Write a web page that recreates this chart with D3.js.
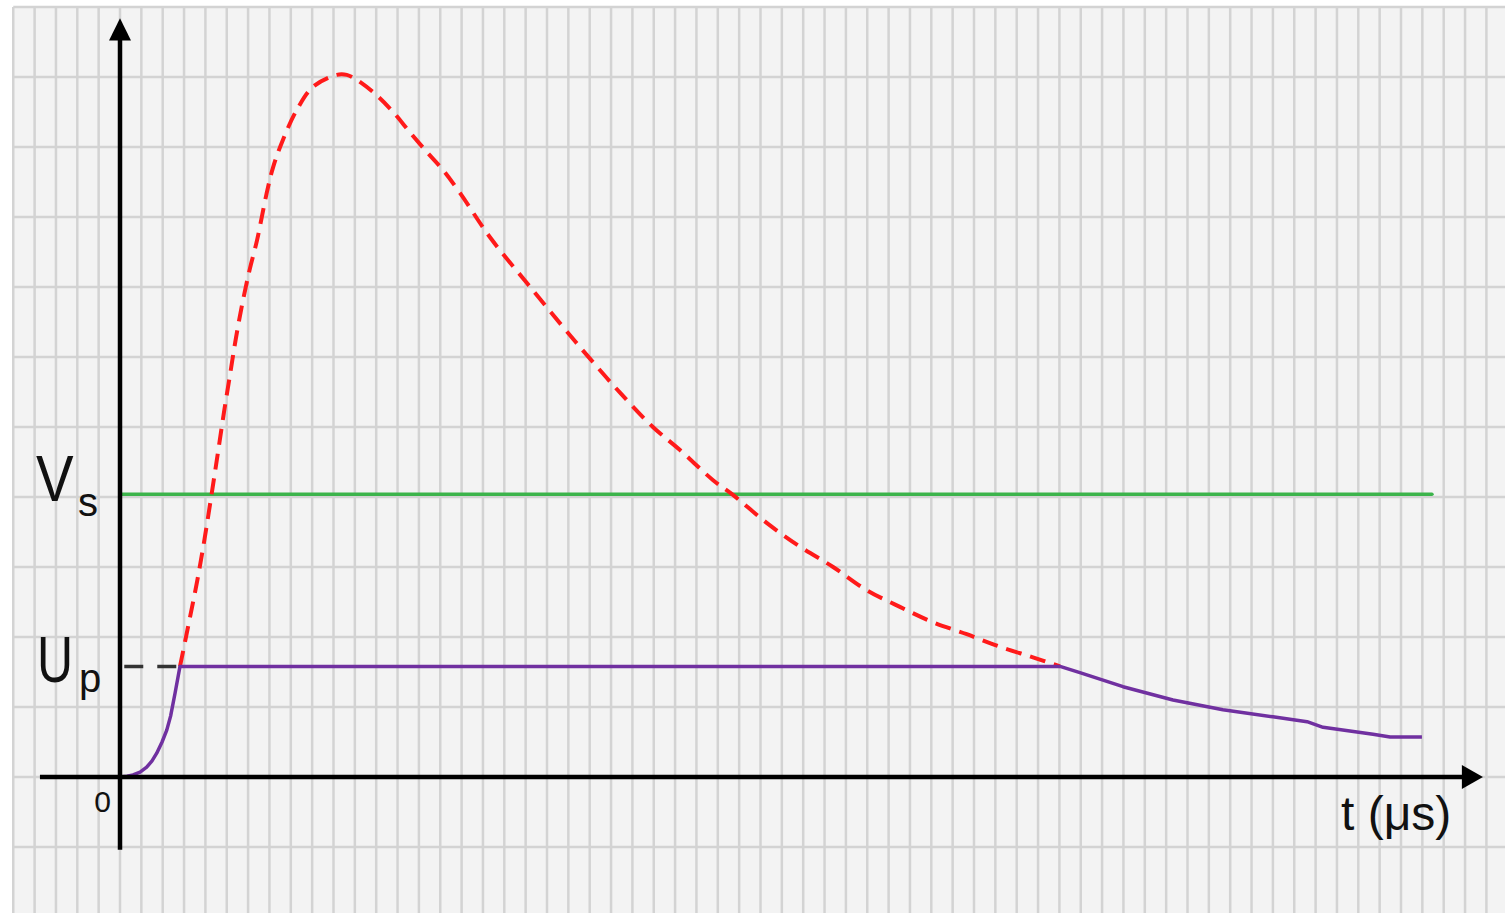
<!DOCTYPE html>
<html>
<head>
<meta charset="utf-8">
<script src="https://cdn.jsdelivr.net/npm/d3@7"></script>
<style>
  html, body { margin: 0; padding: 0; background: #ffffff; }
  svg { display: block; }
  text { font-family: "Liberation Sans", Arial, sans-serif; fill: #111; }
</style>
</head>
<body>
<div id="chart"></div>
<script>
// surge voltage (red dashed), time in grid units, voltage in grid units
var surgeT = [2.81, 3.23, 3.61, 3.96, 4.29, 4.59, 4.87, 5.15, 5.43, 5.76, 6.09, 6.42, 6.87, 7.17, 7.63,
    8.28, 9.04, 10.15, 10.62, 11.09, 12.02, 12.79, 13.58, 14.37, 15.13, 15.93, 17.33, 19.05, 20.75,
    21.86, 23.42, 24.96, 26.23, 27.78, 28.71, 30.29, 31.85, 33.40, 34.97, 36.53, 38.08, 39.66, 41.22,
    42.76, 44.03];
var surgeV = [1.58, 2.21, 2.79, 3.40, 4.04, 4.64, 5.21, 5.74, 6.27, 6.81, 7.27, 7.67, 8.34, 8.71, 9.10,
    9.53, 9.86, 10.03, 10.03, 9.96, 9.74, 9.50, 9.21, 8.93, 8.67, 8.34, 7.71, 7.06, 6.43,
    6.03, 5.49, 5.00, 4.67, 4.24, 4.03, 3.63, 3.29, 3.00, 2.67, 2.43, 2.21, 2.04, 1.86,
    1.71, 1.58];

// clamped voltage (purple)
var clampT = [0, 0.33, 0.61, 0.94, 1.25, 1.50, 1.72, 1.97, 2.19, 2.37, 2.58, 2.81, 44.03, 44.96, 46.98,
    49.32, 51.66, 54.0, 55.6, 56.35, 58.69, 59.49, 60.98];
var clampV = [0, 0.01, 0.03, 0.07, 0.14, 0.23, 0.34, 0.50, 0.67, 0.87, 1.20, 1.58, 1.58, 1.49, 1.29,
    1.10, 0.96, 0.86, 0.79, 0.71, 0.61, 0.57, 0.57];

var Vs = 4.04,
    Up = 1.58,
    vsEnd = 61.45;

var full_width = 1512,
    full_height = 913;

var x = d3.scaleLinear()
    .domain([0, 1])
    .range([120, 141.35]);

var y = d3.scaleLinear()
    .domain([0, 1])
    .range([777, 707]);

var svg = d3.select("#chart")
    .append("svg")
    .attr("width", full_width)
    .attr("height", full_height);

// grid background
svg.append("rect")
    .attr("x", x(-5))
    .attr("y", y(11))
    .attr("width", 1505 - x(-5))
    .attr("height", full_height - y(11))
    .attr("fill", "#f3f3f3");

var grid = svg.append("g")
    .attr("stroke", "#d3d3d3")
    .attr("stroke-width", 2.5);

grid.selectAll("line.v")
    .data(d3.range(-5, 65))
    .enter()
    .append("line")
    .attr("class", "v")
    .attr("x1", function(d) { return x(d); })
    .attr("x2", function(d) { return x(d); })
    .attr("y1", y(11))
    .attr("y2", full_height);

grid.selectAll("line.h")
    .data(d3.range(-1, 12))
    .enter()
    .append("line")
    .attr("class", "h")
    .attr("x1", x(-5))
    .attr("x2", 1505)
    .attr("y1", function(d) { return y(d); })
    .attr("y2", function(d) { return y(d); });

// Vs level
svg.append("line")
    .attr("x1", x(0))
    .attr("x2", x(vsEnd))
    .attr("y1", y(Vs))
    .attr("y2", y(Vs))
    .attr("stroke", "#3cb44b")
    .attr("stroke-width", 3.5)
    .attr("stroke-linecap", "round");

// Up dashed guide
svg.append("line")
    .attr("x1", x(0.2))
    .attr("x2", x(2.81))
    .attr("y1", y(Up))
    .attr("y2", y(Up))
    .attr("stroke", "#333")
    .attr("stroke-width", 3.5)
    .attr("stroke-dasharray", "19,14");

var line = d3.line()
    .x(function(d) { return x(d[0]); })
    .y(function(d) { return y(d[1]); });

// surge curve
svg.append("path")
    .datum(d3.zip(surgeT, surgeV))
    .attr("fill", "none")
    .attr("stroke", "#ff1a1a")
    .attr("stroke-width", 4)
    .attr("stroke-dasharray", "16,9")
    .attr("d", line.curve(d3.curveCatmullRom));

// clamped curve
svg.append("path")
    .datum(d3.zip(clampT, clampV))
    .attr("fill", "none")
    .attr("stroke", "#7030a0")
    .attr("stroke-width", 3.5)
    .attr("stroke-linejoin", "round")
    .attr("d", line.curve(d3.curveLinear));

// axes
svg.append("line")
    .attr("x1", x(-3.75))
    .attr("x2", x(62.9))
    .attr("y1", y(0))
    .attr("y2", y(0))
    .attr("stroke", "#000")
    .attr("stroke-width", 4.5);

svg.append("line")
    .attr("x1", x(0))
    .attr("x2", x(0))
    .attr("y1", y(-1.04))
    .attr("y2", y(10.6))
    .attr("stroke", "#000")
    .attr("stroke-width", 4.5);

svg.append("path")
    .attr("d", "M" + x(63.84) + "," + y(0) + "L" + x(62.85) + "," + (y(0) - 12) + "L" + x(62.85) + "," + (y(0) + 12) + "Z")
    .attr("fill", "#000");

svg.append("path")
    .attr("d", "M" + x(0) + "," + y(10.84) + "L" + (x(0) - 11) + "," + y(10.52) + "L" + (x(0) + 11) + "," + y(10.52) + "Z")
    .attr("fill", "#000");

// labels (main letters squeezed a little to fit the narrow margin)
svg.append("text")
    .attr("transform", "translate(36,501) scale(0.88,1)")
    .style("font-size", "64px")
    .text("V");

svg.append("text")
    .attr("x", 78)
    .attr("y", 516)
    .style("font-size", "40px")
    .text("s");

svg.append("text")
    .attr("transform", "translate(37,682) scale(0.78,1)")
    .style("font-size", "64px")
    .text("U");

svg.append("text")
    .attr("x", 79)
    .attr("y", 692)
    .style("font-size", "40px")
    .text("p");

svg.append("text")
    .attr("x", 111)
    .attr("y", 812)
    .style("text-anchor", "end")
    .style("font-size", "30px")
    .text("0");

svg.append("text")
    .attr("x", 1341)
    .attr("y", 830)
    .style("font-size", "48px")
    .text("t (μs)");
</script>
</body>
</html>
